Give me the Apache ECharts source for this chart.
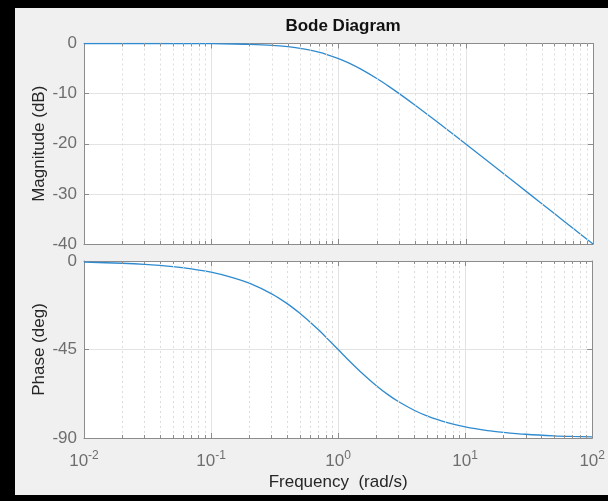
<!DOCTYPE html>
<html>
<head>
<meta charset="utf-8">
<script src="https://cdn.jsdelivr.net/npm/echarts@6/dist/echarts.min.js"></script>
<style>
  html, body { margin: 0; padding: 0; background: #000; }
  #bode { position: absolute; left: 15px; top: 8px; width: 593px; height: 487px; background: #f0f0f0; }
</style>
</head>
<body>
<div id="bode"></div>
<script>
// frequency (rad/s) and the values
var freq = [0.01, 0.02, 0.03, 0.05, 0.07, 0.1, 0.15, 0.2, 0.3, 0.4, 0.5, 0.6, 0.7, 0.8, 1,
    1.2, 1.5, 2, 2.5, 3, 4, 5, 7, 10, 15, 20, 30, 50, 70, 100];
var magDb = [0, 0, 0, -0.01, -0.02, -0.04, -0.1, -0.17, -0.37, -0.64, -0.97, -1.34, -1.73, -2.15, -3.01,
    -3.87, -5.12, -6.99, -8.6, -10.0, -12.3, -14.15, -16.99, -20.04, -23.54, -26.03, -29.55, -33.98, -36.9, -40.0];
var phaseDeg = [-0.57, -1.15, -1.72, -2.86, -4.0, -5.71, -8.53, -11.3, -16.7, -21.8, -26.6, -31.0, -35.0, -38.7, -45,
    -50.2, -56.3, -63.4, -68.2, -71.6, -76.0, -78.7, -81.9, -84.3, -86.2, -87.1, -88.1, -88.9, -89.2, -89.4];
var decades = [0.01, 0.1, 1, 10];
var minorSteps = [2, 3, 4, 5, 6, 7, 8, 9];

var chart = echarts.init(document.getElementById('bode'));

var minorFreq = [];
for (var d = 0; d < decades.length; d++) {
    for (var m = 0; m < minorSteps.length; m++) {
        minorFreq.push(+(decades[d] * minorSteps[m]).toPrecision(3));
    }
}

function pairs(ys) {
    var out = [];
    for (var i = 0; i < freq.length; i++) out.push([freq[i], ys[i]]);
    return out;
}

// dotted minor grid plus small ticks on top/bottom edge
function minorMarks(top, bottom, tickLen) {
    var lines = [];
    minorFreq.forEach(function (f) {
        lines.push([{ coord: [f, top] }, { coord: [f, bottom] }]);
    });
    var ticks = [];
    minorFreq.forEach(function (f) {
        ticks.push([{ coord: [f, top] }, { coord: [f, top - tickLen] }]);
        ticks.push([{ coord: [f, bottom] }, { coord: [f, bottom + tickLen] }]);
    });
    return { lines: lines, ticks: ticks };
}

var magMinor = minorMarks(0, -40, 0.6);
var phaseMinor = minorMarks(0, -90, 1.5);

var axisGrey = '#8c8c8c';
var labelGrey = '#6e6e6e';
var font = 'Liberation Sans, Arial, sans-serif';

function xAxisCfg(gridIndex, position, showLabel) {
    return {
        type: 'log', logBase: 10, min: 0.01, max: 100,
        gridIndex: gridIndex, position: position,
        axisLine: { show: true, onZero: false, lineStyle: { color: axisGrey, width: 1 } },
        axisTick: { show: true, inside: true, length: 5, lineStyle: { color: axisGrey } },
        splitLine: { show: position === 'bottom', lineStyle: { color: '#e3e3e3', width: 1 } },
        axisLabel: {
            show: showLabel, margin: 12, color: labelGrey, fontFamily: font,
            formatter: function (v) {
                var e = Math.round(Math.log(v) / Math.LN10);
                return '{b|10}{e|' + e + '}';
            },
            rich: {
                b: { fontSize: 17, color: labelGrey, fontFamily: font },
                e: { fontSize: 12, color: labelGrey, fontFamily: font, padding: [0, 0, 10, 0] }
            }
        }
    };
}

function yAxisCfg(gridIndex, position, min, max, interval, name) {
    return {
        type: 'value', min: min, max: max, interval: interval,
        gridIndex: gridIndex, position: position,
        name: name, nameLocation: 'middle', nameGap: 36, nameMoveOverlap: false,
        nameTextStyle: { color: '#262626', fontSize: 17, fontFamily: font },
        axisLine: { show: true, onZero: false, lineStyle: { color: axisGrey, width: 1 } },
        axisTick: { show: true, inside: true, length: 5, lineStyle: { color: axisGrey } },
        splitLine: { show: position === 'left', lineStyle: { color: '#e3e3e3', width: 1 } },
        axisLabel: { show: position === 'left', margin: 7, color: labelGrey, fontSize: 17, fontFamily: font }
    };
}

var xLower = xAxisCfg(1, 'bottom', true);
xLower.name = 'Frequency  (rad/s)';
xLower.nameLocation = 'middle';
xLower.nameGap = 36;
xLower.nameTextStyle = { color: '#262626', fontSize: 17, fontFamily: font };

var lineColor = '#2f8bd0';

function minorSeries(xi, yi, marks) {
    return {
        type: 'line', xAxisIndex: xi, yAxisIndex: yi, data: [], silent: true,
        markLine: {
            silent: true, symbol: 'none', label: { show: false }, animation: false,
            data: marks.lines.map(function (l) {
                return [Object.assign({ lineStyle: { color: '#dcdcdc', type: [2, 3], width: 1 } }, l[0]), l[1]];
            }).concat(marks.ticks.map(function (t) {
                return [Object.assign({ lineStyle: { color: axisGrey, type: 'solid', width: 1 } }, t[0]), t[1]];
            }))
        }
    };
}

option = {
    backgroundColor: '#f0f0f0',
    animation: false,
    title: {
        text: 'Bode Diagram', left: 323, top: 5, textAlign: 'center',
        textStyle: { fontSize: 17, fontWeight: 'bold', color: '#111', fontFamily: font }
    },
    grid: [
        { left: 69, top: 35.5, width: 509, height: 200.5, show: true, backgroundColor: '#fff', borderWidth: 0 },
        { left: 69, top: 253, width: 509, height: 177, show: true, backgroundColor: '#fff', borderWidth: 0 }
    ],
    xAxis: [
        xAxisCfg(0, 'bottom', false),
        xLower,
        xAxisCfg(0, 'top', false),
        xAxisCfg(1, 'top', false)
    ],
    yAxis: [
        yAxisCfg(0, 'left', -40, 0, 10, 'Magnitude (dB)'),
        yAxisCfg(1, 'left', -90, 0, 45, 'Phase (deg)'),
        yAxisCfg(0, 'right', -40, 0, 10, ''),
        yAxisCfg(1, 'right', -90, 0, 45, '')
    ],
    series: [
        minorSeries(0, 0, magMinor),
        minorSeries(1, 1, phaseMinor),
        {
            type: 'line', xAxisIndex: 0, yAxisIndex: 0, data: pairs(magDb),
            smooth: 0.3, showSymbol: false, lineStyle: { color: lineColor, width: 1.3 }
        },
        {
            type: 'line', xAxisIndex: 1, yAxisIndex: 1, data: pairs(phaseDeg),
            smooth: 0.3, showSymbol: false, lineStyle: { color: lineColor, width: 1.3 }
        }
    ]
};

chart.setOption(option);
</script>
</body>
</html>
